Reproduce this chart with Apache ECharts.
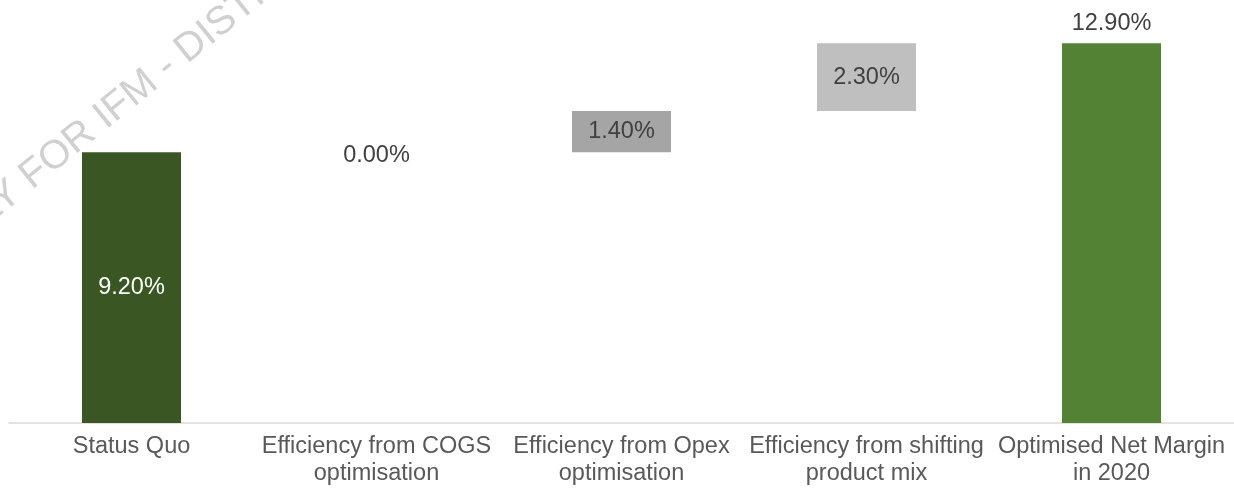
<!DOCTYPE html>
<html>
<head>
<meta charset="utf-8">
<script src="https://cdn.jsdelivr.net/npm/echarts@6/dist/echarts.min.js"></script>
<style>
  html, body { margin: 0; padding: 0; background: #ffffff; }
  #chart { width: 1234px; height: 490px; }
</style>
</head>
<body>
<div id="chart"></div>
<script>
// Net margin bridge (percent)
const categories = [
  'Status Quo',
  'Efficiency from COGS\noptimisation',
  'Efficiency from Opex\noptimisation',
  'Efficiency from shifting\nproduct mix',
  'Optimised Net Margin\nin 2020'
];
const values = [9.2, 0.0, 1.4, 2.3, 12.9];
// first and last are totals, the middle steps float on the running sum
const isTotal = [true, false, false, false, true];
const barColors = ['#3a5723', '#3a5723', '#a5a5a5', '#bfbfbf', '#548235'];
const labelColors = ['#ffffff', '#404040', '#404040', '#404040', '#404040'];

// invisible offsets that lift each step onto the running total
const offsets = [];
let running = 0;
values.forEach((v, i) => {
  if (isTotal[i]) { offsets.push(0); running = v; }
  else { offsets.push(running); running += v; }
});

const FONT = '"Liberation Sans", Arial, sans-serif';
const fmt = v => v.toFixed(2) + '%';

const chart = echarts.init(document.getElementById('chart'), null, { renderer: 'canvas' });
chart.setOption({
  animation: false,
  backgroundColor: '#ffffff',
  grid: { left: 9, width: 1227, top: 11, height: 412, containLabel: false },
  xAxis: {
    type: 'category',
    data: categories,
    axisLine: { show: true, lineStyle: { color: '#d9d9d9', width: 1.5 } },
    axisTick: { show: false },
    axisLabel: {
      interval: 0,
      color: '#595959',
      fontFamily: FONT,
      fontSize: 23.5,
      lineHeight: 27,
      margin: 10
    }
  },
  yAxis: {
    type: 'value',
    min: 0,
    max: 14,
    show: false,
    splitLine: { show: false }
  },
  graphic: [{
    type: 'text',
    x: -66,
    y: 255,
    rotation: 39 * Math.PI / 180,
    z: 0,
    style: {
      text: 'ONLY FOR IFM - DISTRIBUTION PROHIBITED',
      font: '40px ' + FONT,
      fill: '#d0d0d0',
      textAlign: 'left',
      textVerticalAlign: 'middle'
    }
  }],
  series: [
    {
      type: 'bar',
      stack: 'bridge',
      barWidth: 99,
      silent: true,
      itemStyle: { color: 'transparent' },
      data: offsets,
      z: 2
    },
    {
      type: 'bar',
      stack: 'bridge',
      barWidth: 99,
      z: 3,
      data: values.map((v, i) => ({
        value: v,
        itemStyle: { color: barColors[i] },
        label: {
          show: true,
          position: i === values.length - 1 ? 'top' : 'inside',
          distance: 8,
          offset: v === 0 ? [0, 3] : [0, 0],
          color: labelColors[i],
          fontFamily: FONT,
          fontSize: 23.5
        }
      })),
      label: {
        show: true,
        formatter: p => fmt(p.value)
      }
    }
  ]
});
</script>
</body>
</html>
